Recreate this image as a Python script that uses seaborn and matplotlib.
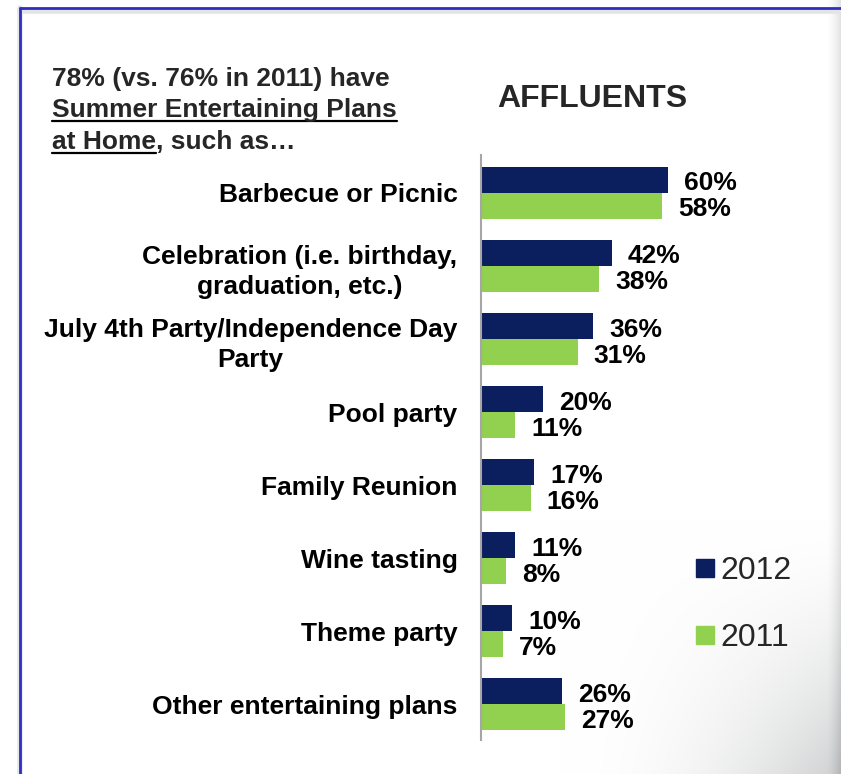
import numpy as np
import pandas as pd
import matplotlib
matplotlib.use("Agg")
import matplotlib.pyplot as plt
from matplotlib.lines import Line2D
import seaborn as sns

# ---- data ----
plans = [
    "Barbecue or Picnic",
    "Celebration (i.e. birthday,\ngraduation, etc.)",
    "July 4th Party/Independence Day\nParty",
    "Pool party",
    "Family Reunion",
    "Wine tasting",
    "Theme party",
    "Other entertaining plans",
]
pct_2012 = [60, 42, 36, 20, 17, 11, 10, 26]
pct_2011 = [58, 38, 31, 11, 16, 8, 7, 27]
years = ["2012", "2011"]
colors = ["#0b1f5e", "#92d050"]

df = pd.DataFrame({
    "plan": plans * 2,
    "pct": pct_2012 + pct_2011,
    "year": [years[0]] * len(plans) + [years[1]] * len(plans),
})

W, H, DPI = 841, 774, 100
sns.set_theme(style="white")
plt.rcParams["font.family"] = ["Liberation Sans", "DejaVu Sans"]

fig = plt.figure(figsize=(W / DPI, H / DPI), dpi=DPI, facecolor="white")


def fx(px):
    return px / W


def fy(py):
    return 1 - py / H


# ---- soft grey shading toward the lower right corner ----
bg = fig.add_axes([0, 0, 1, 1], zorder=0)
xx, yy = np.meshgrid(np.arange(W), np.arange(H))
shade = (np.clip((xx - 560) / 281, 0, 1) ** 2) * (np.clip((yy - 520) / 254, 0, 1) ** 1.5) * 0.19
shade += np.clip((xx - 826) / 15, 0, 1) ** 1.5 * 0.12
shade = np.clip(shade, 0, 1)
rgb = np.ones((H, W, 3)) - shade[..., None] * np.array([1.0, 0.98, 0.96])
bg.imshow(rgb, aspect="auto", extent=(0, W, H, 0), interpolation="bilinear")
bg.set_xlim(0, W)
bg.set_ylim(H, 0)
bg.axis("off")

# slide frame: blue rule along top and left
frame_col = "#2e2ec6"
fig.add_artist(Line2D([fx(20), fx(20)], [fy(8), fy(H)], color="#e6e6e6", lw=4, transform=fig.transFigure))
fig.add_artist(Line2D([fx(20), fx(W)], [fy(10.5), fy(10.5)], color="#e4e4e4", lw=4, transform=fig.transFigure))
fig.add_artist(Line2D([fx(20), fx(W)], [fy(8), fy(8)], color=frame_col, lw=2, transform=fig.transFigure))
fig.add_artist(Line2D([fx(20), fx(20)], [fy(8), fy(H)], color=frame_col, lw=2, transform=fig.transFigure))

# ---- bar chart ----
ax_left, ax_top, ax_bottom = 481, 155, 740
ax = fig.add_axes([fx(ax_left), fy(ax_bottom), fx(W - ax_left), (ax_bottom - ax_top) / H], zorder=2)
ax.patch.set_alpha(0)

sns.barplot(
    data=df, y="plan", x="pct", hue="year", orient="h",
    hue_order=years, palette=colors, width=0.712, gap=0,
    saturation=1, edgecolor="none", legend=False, ax=ax,
)

px_per_pct = 3.117
ax.set_xlim(0, (W - ax_left) / px_per_pct)
ax.set_ylim(7.49, -0.52)
ax.set_xlabel("")
ax.set_ylabel("")
ax.set_xticks([])
for side in ["top", "right", "bottom"]:
    ax.spines[side].set_visible(False)
ax.spines["left"].set_color("#a6a6a6")
ax.spines["left"].set_linewidth(1.5)

ax.tick_params(axis="y", length=0, pad=17)
for lbl in ax.get_yticklabels():
    lbl.set_fontsize(19)
    lbl.set_fontweight("bold")
    lbl.set_color("black")
    lbl.set_multialignment("center")
    lbl.set_linespacing(1.32)

for cont in ax.containers:
    anns = ax.bar_label(cont, fmt="{:.0f}%", padding=11.5, fontsize=19,
                        fontweight="bold", color="black")
    for a in anns:
        a.xyann = (11.5, -2.5)

# legend
handles = [Line2D([], [], marker="s", linestyle="", markersize=12.3,
                  markerfacecolor=c, markeredgecolor=c) for c in colors]
fig.legend(handles, years, loc="upper left", bbox_to_anchor=(fx(696), fy(556)),
           frameon=False, fontsize=23, handlelength=0.55, handletextpad=0.22,
           labelspacing=1.17, borderpad=0, borderaxespad=0)

# ---- titles ----
fig.text(fx(497), fy(99), "AFFLUENTS", fontsize=23, fontweight="bold",
         ha="left", va="center")

hx = 52
t1 = fig.text(fx(hx), fy(86), "78% (vs. 76% in 2011) have", fontsize=19,
              fontweight="bold", ha="left", va="baseline")
t2 = fig.text(fx(hx), fy(117), "Summer Entertaining Plans", fontsize=19,
              fontweight="bold", ha="left", va="baseline")
t3 = fig.text(fx(hx), fy(149), "at Home", fontsize=19,
              fontweight="bold", ha="left", va="baseline")

fig.canvas.draw()
renderer = fig.canvas.get_renderer()
e3 = t3.get_window_extent(renderer)
fig.text(e3.x1 / W, fy(149), ", such as\u2026", fontsize=19,
         fontweight="bold", ha="left", va="baseline")

for t, base in [(t2, 117), (t3, 149)]:
    e = t.get_window_extent(renderer)
    fig.add_artist(Line2D([e.x0 / W, e.x1 / W], [fy(base + 4), fy(base + 4)],
                          color="black", lw=1.6, transform=fig.transFigure))

fig.savefig("out.png", dpi=DPI, facecolor="white")
